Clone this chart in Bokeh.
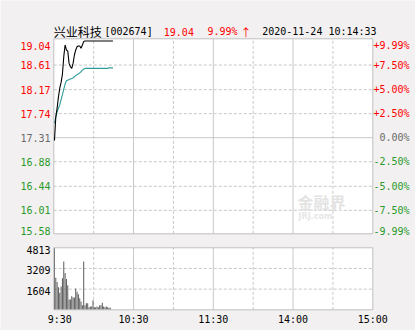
from bokeh.plotting import figure
from bokeh.models import Range1d
from bokeh.core.properties import value
from bokeh.embed import file_html
from bokeh.resources import INLINE

# ---------------- data ----------------
minutes = list(range(45))  # minute index since 9:30
price = [17.26, 17.68, 17.84, 18.04, 18.20, 18.30, 18.45, 18.76, 18.97, 18.88,
         18.86, 18.64, 18.58, 18.55, 18.64, 18.79, 18.88, 18.94, 18.95, 18.95,
         18.91, 18.97, 19.03, 19.04, 19.04, 19.04, 19.04, 19.04, 19.04, 19.04,
         19.04, 19.04, 19.04, 19.04, 19.04, 19.04, 19.04, 19.04, 19.04, 19.04,
         19.04, 19.04, 19.04, 19.04, 19.04]
avg_price = [17.57, 17.68, 17.77, 17.84, 17.90, 17.99, 18.08, 18.18, 18.27, 18.33,
             18.34, 18.35, 18.36, 18.37, 18.38, 18.40, 18.42, 18.44, 18.45, 18.47,
             18.49, 18.52, 18.54, 18.55, 18.55, 18.55, 18.55, 18.55, 18.55, 18.55,
             18.55, 18.55, 18.55, 18.55, 18.55, 18.55, 18.55, 18.55, 18.55, 18.55,
             18.55, 18.56, 18.56, 18.56, 18.56]
volume = [4813, 2480, 2150, 1760, 1320, 1800, 2450, 3750, 2850, 2400,
          1900, 800, 800, 1050, 950, 950, 1650, 1400, 1200, 900,
          650, 350, 3750, 350, 500, 500, 200, 250, 250, 750,
          200, 200, 250, 200, 350, 350, 550, 250, 200, 250,
          200, 150, 150, 0, 0]

prev_close = 17.31
price_ticks = [19.04, 18.61, 18.17, 17.74, 17.31, 16.88, 16.44, 16.01, 15.58]
pct_labels = ["+9.99%", "+7.50%", "+5.00%", "+2.50%", "0.00%",
              "-2.50%", "-5.00%", "-7.50%", "-9.99%"]
vol_max = 4813
vol_ticks = [4813, 3209, 1604]
time_ticks = [0, 60, 120, 180, 240]
time_labels = ["9:30", "10:30", "11:30", "14:00", "15:00"]

title_name = "兴业科技"
title_code = "[002674]"
title_price = "19.04"
title_pct = "9.99%"
title_arrow = "↑"
title_time = "2020-11-24 10:14:33"

# ---------------- style / layout ----------------
BG = "#f2f0f0"
BORDER = "#c0c0c0"
GRID = "#c8c8c8"
RED = "#ff0000"
GREEN = "#2a9a2a"
GRAY = "#6a6a6a"
AVG = "#2e9c9a"
BAR = "#5a5a5a"
MONO = "DejaVu Sans Mono"
CJK = "Noto Sans CJK SC"
FS = "10px"

W, H = 415, 330
CX0, CX1 = 53.3, 372.3      # chart area columns, px
CY0, CY1 = 38.3, 233.3      # price panel rows, px
VY0, VY1 = 247.3, 309.3     # volume panel rows, px
PMIN, PMAX = 15.59, 19.08   # price span of the price panel
TMAX = 240


def px2x(px):
    return (px - CX0) / (CX1 - CX0) * TMAX


def py2y(py):
    return PMAX - (py - CY0) / (CY1 - CY0) * (PMAX - PMIN)


def py2v(py):
    return vol_max * (VY1 - py) / (VY1 - VY0)


xs = [m + 0.5 for m in minutes]

p = figure(width=W, height=H, x_range=Range1d(px2x(0), px2x(W)),
           y_range=Range1d(py2y(H), py2y(0)),
           output_backend="svg", toolbar_location=None,
           x_axis_location=None, y_axis_location=None,
           min_border=0, background_fill_color=BG, border_fill_color=BG,
           outline_line_color=None)
p.extra_y_ranges = {"vol": Range1d(py2v(H), py2v(0))}
p.grid.visible = False

dash_times = [30, 90, 150, 210]
solid_times = [60, 120, 180]
dash_prices = [t for t in price_ticks[1:-1] if t != prev_close]
dash_vols = vol_ticks[1:]

# ----- price panel -----
p.quad(left=[0], right=[TMAX], bottom=[PMIN], top=[PMAX],
       fill_color="white", line_color=None)
p.segment(x0=dash_times, x1=dash_times, y0=[PMIN] * 4, y1=[PMAX] * 4,
          line_color=GRID, line_width=1, line_dash="3 2")
p.segment(x0=solid_times, x1=solid_times, y0=[PMIN] * 3, y1=[PMAX] * 3,
          line_color=GRID, line_width=1)
p.segment(x0=[0] * len(dash_prices), x1=[TMAX] * len(dash_prices),
          y0=dash_prices, y1=dash_prices, line_color=GRID, line_width=1, line_dash="3 2")
p.segment(x0=[0], x1=[TMAX], y0=[prev_close], y1=[prev_close],
          line_color=GRID, line_width=1)
p.quad(left=[0], right=[TMAX], bottom=[PMIN], top=[PMAX],
       fill_color=None, line_color=BORDER, line_width=1)

# watermark
p.text(x=[px2x(297)], y=[py2y(201)], text=["金融界"], text_font=value(CJK),
       text_font_size=value("16px"), text_font_style="bold", text_color="#e3e3e3",
       text_baseline="middle", text_align="left")
p.text(x=[px2x(298)], y=[py2y(216)], text=["JRJ.com"], text_font=value("DejaVu Sans"),
       text_font_size=value("8px"), text_font_style="bold", text_color="#e6e6e6",
       text_baseline="middle", text_align="left")

p.line(xs, avg_price, line_color=AVG, line_width=1.1)
p.line(xs, price, line_color="black", line_width=1.1)

# price / percent labels
cols = [RED if t > prev_close else (GREEN if t < prev_close else GRAY) for t in price_ticks]
yoff = [0] * len(price_ticks)
yoff[0] = 4.5
yoff[-1] = -3
p.text(x=[px2x(50)] * len(price_ticks), y=price_ticks,
       text=[f"{t:.2f}" for t in price_ticks], text_color=cols, y_offset=yoff,
       text_align="right", text_baseline="middle",
       text_font=value(MONO), text_font_size=value(FS))
p.text(x=[px2x(409)] * len(price_ticks), y=price_ticks, text=pct_labels,
       text_color=cols, y_offset=yoff, text_align="right", text_baseline="middle",
       text_font=value(MONO), text_font_size=value(FS))

# header
hy = py2y(31)
p.text(x=[px2x(53.3)], y=[hy], text=[title_name], text_font=value(CJK),
       text_font_size=value("12px"), text_color="black", text_baseline="middle")
p.text(x=[px2x(104), px2x(261.7)], y=[hy, hy], text=[title_code, title_time],
       text_font=value(MONO), text_font_size=value(FS), text_color="black",
       text_baseline="middle")
p.text(x=[px2x(163.3), px2x(207)], y=[hy, hy], text=[title_price, title_pct],
       text_font=value(MONO), text_font_size=value(FS), text_color=RED,
       text_baseline="middle")
p.text(x=[px2x(240)], y=[hy], text=[title_arrow], text_font=value(CJK),
       text_font_size=value("11px"), text_color=RED, text_baseline="middle")

# ----- volume panel -----
p.quad(left=[0], right=[TMAX], bottom=[0], top=[vol_max], y_range_name="vol",
       fill_color="white", line_color=None)
p.segment(x0=dash_times, x1=dash_times, y0=[0] * 4, y1=[vol_max] * 4, y_range_name="vol",
          line_color=GRID, line_width=1, line_dash="3 2")
p.segment(x0=solid_times, x1=solid_times, y0=[0] * 3, y1=[vol_max] * 3, y_range_name="vol",
          line_color=GRID, line_width=1)
p.segment(x0=[0] * len(dash_vols), x1=[TMAX] * len(dash_vols), y0=dash_vols, y1=dash_vols,
          y_range_name="vol", line_color=GRID, line_width=1, line_dash="3 2")
p.vbar(x=xs, top=volume, width=0.75, y_range_name="vol", fill_color=BAR, line_color=None)
p.quad(left=[0], right=[TMAX], bottom=[0], top=[vol_max], y_range_name="vol",
       fill_color=None, line_color=BORDER, line_width=1)

voff = [2, 2, 1.5]
p.text(x=[px2x(50)] * len(vol_ticks), y=vol_ticks, text=[str(t) for t in vol_ticks],
       y_offset=voff, y_range_name="vol", text_align="right", text_baseline="middle",
       text_font=value(MONO), text_font_size=value(FS), text_color="black")

toff = [6, 0, 0, 0, 0]
p.text(x=time_ticks, y=[py2v(319)] * len(time_ticks), text=time_labels, x_offset=toff,
       y_range_name="vol", text_align="center", text_baseline="middle",
       text_font=value(MONO), text_font_size=value(FS), text_color="black")

open("out.html", "w").write(file_html(p, INLINE))
